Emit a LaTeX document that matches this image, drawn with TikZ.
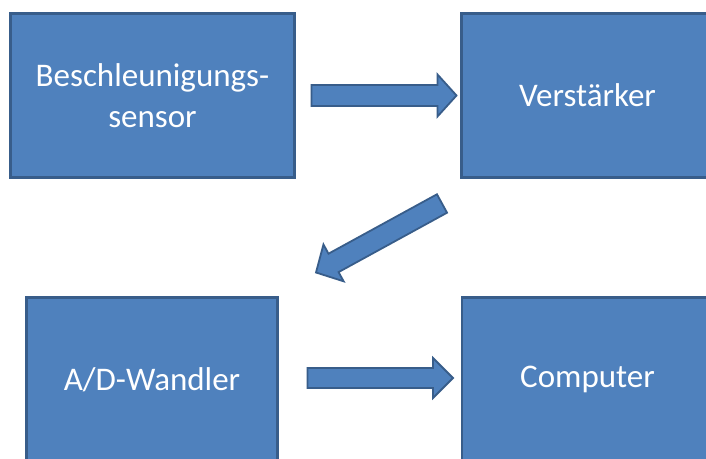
\documentclass[tikz,border=0pt]{standalone}
\usepackage{fontspec}
\setmainfont{Carlito}
\usetikzlibrary{calc}
\definecolor{boxfill}{HTML}{4F81BD}
\definecolor{boxline}{HTML}{385D8A}
\tikzset{
  blockbox/.style={draw=boxline, fill=boxfill, line width=2.6pt, outer sep=0pt,
    minimum height=164pt, text=white, align=center,
    font=\fontsize{33}{41}\selectfont},
  blockarrowstyle/.style={draw=boxline, fill=boxfill, line width=1.8pt, line join=miter}
}
% #1 tail, #2 tip, #3 prefix, #4 shaft half-width, #5 head half-width, #6 head length
\newcommand\myblockarrow[6]{%
  \coordinate (#3c) at ($(#2)!#6!(#1)$);
  \draw[blockarrowstyle] ($(#1)!#4!90:(#2)$) -- ($(#3c)!#4!90:(#2)$) -- ($(#3c)!#5!90:(#2)$)
    -- (#2) -- ($(#3c)!#5!-90:(#2)$) -- ($(#3c)!#4!-90:(#2)$) -- ($(#1)!#4!-90:(#2)$) -- cycle;
}
\begin{document}
\begin{tikzpicture}[x=1pt,y=-1pt]
\clip (0,0) rectangle (706,458);
\fill[white] (0,0) rectangle (706,458);
\node[blockbox, minimum width=284pt] (b1) at (152.5,95.5) {Beschleunigungs-\\sensor};
\node[blockbox, minimum width=252pt] (b2) at (587.5,95.5) {Verstärker};
\node[blockbox, minimum width=251pt] (b3) at (152,379.5) {A/D-Wandler};
\node[blockbox, minimum width=251pt] (b4) at (587.5,379.5) {Computer};
\coordinate (a1s) at ($(b1.east)+(17,0)$);
\coordinate (a1e) at ($(b2.west)+(-5,0)$);
\coordinate (a2s) at ($(b2.south)+(-145.5,26)$);
\coordinate (a2e) at ($(b3.north)+(164,-25)$);
\coordinate (a3s) at ($(b3.east)+(30,-1.5)$);
\coordinate (a3e) at ($(b4.west)+(-9,-1.5)$);
\myblockarrow{a1s}{a1e}{a1}{10.5pt}{21pt}{19pt}
\myblockarrow{a2s}{a2e}{a2}{10.5pt}{21pt}{20pt}
\myblockarrow{a3s}{a3e}{a3}{10pt}{20pt}{20pt}
\end{tikzpicture}
\end{document}
